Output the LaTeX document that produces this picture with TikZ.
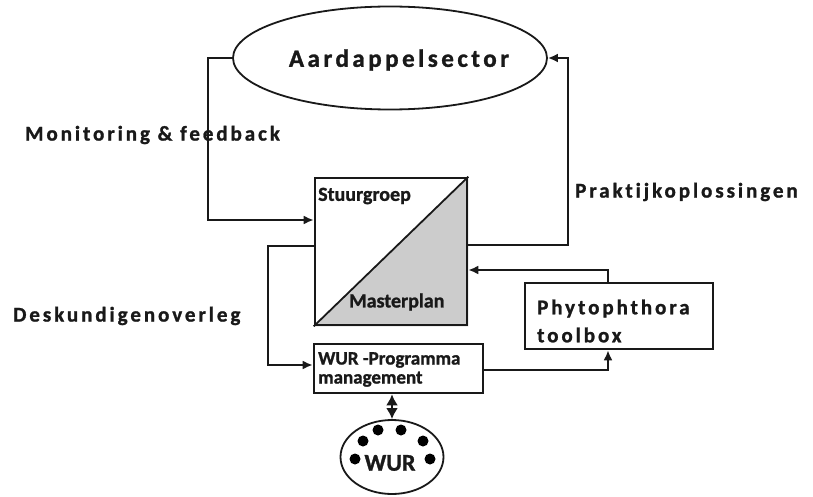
\documentclass[tikz,border=0pt]{standalone}
\usepackage{fontspec}
\setmainfont[Ligatures=NoCommon,FakeBold=1.2]{Carlito}
\usetikzlibrary{shapes.geometric,arrows.meta}
\newfontfamily\spaced[LetterSpace=14,Ligatures=NoCommon,FakeBold=1.2]{Carlito}
\begin{document}
\begin{tikzpicture}[x=1pt,y=-1pt,
  ln/.style={line width=2.6pt,draw=black!90},
  arr/.style={ln,-{Latex[length=10pt,width=9pt]}},
  dblarr/.style={ln,{Latex[length=11pt,width=12pt]}-{Latex[length=11pt,width=12pt]}},
  boxnode/.style={draw=black!90,line width=2.6pt,rectangle,inner sep=0pt},
  lbl/.style={font=\spaced\bfseries\fontsize{21}{24}\selectfont,text=black!90,inner sep=0pt},
  btxt/.style={font=\bfseries\fontsize{20}{21}\selectfont,text=black!90,inner sep=0pt,align=left},
  dot/.style={circle,fill=black,inner sep=0pt,minimum size=11pt}]
\useasboundingbox (0,0) rectangle (813,497);
% nodes
\node[ellipse,draw=black!90,line width=1.8pt,minimum width=314pt,minimum height=103pt,inner sep=0pt] (aard) at (390,58) {};
\node[font=\spaced\bfseries\fontsize{25}{27}\selectfont,text=black!90] (aardt) at (399,60) {Aardappelsector};
\node[boxnode,minimum width=152pt,minimum height=147pt] (stuur) at (391,251.5) {};
\fill[black!20] (stuur.south west) -- (stuur.north east) -- (stuur.south east) -- cycle;
\node[boxnode,minimum width=152pt,minimum height=147pt] (stuur2) at (391,251.5) {};
\draw[line width=1.8pt,black!90] (stuur.south west) -- (stuur.north east);
\node[btxt,anchor=west] (st) at (318,196) {Stuurgroep};
\node[btxt,anchor=west] (mp) at (349,302) {Masterplan};
\node[boxnode,minimum width=188pt,minimum height=66pt] (phyto) at (619,316) {};
\node[btxt,anchor=west,font=\spaced\bfseries\fontsize{21}{28}\selectfont] (phytot) at (537,321) {Phytophthora\\toolbox};
\node[boxnode,minimum width=169pt,minimum height=49pt] (wurbox) at (398.5,368.5) {};
\node[btxt,anchor=west,font=\bfseries\fontsize{19}{19}\selectfont] (wurboxt) at (318,369.5) {WUR -Programma\\management};
\node[ellipse,draw=black!90,line width=1.8pt,minimum width=103pt,minimum height=74pt,inner sep=0pt] (wur) at (392,457) {};
\node[btxt,font=\bfseries\fontsize{24}{24}\selectfont] (wurt) at (390,463) {WUR};
\node[dot] (d1) at (355,459) {};
\node[dot] (d2) at (363,441) {};
\node[dot] (d3) at (378,430) {};
\node[dot] (d4) at (401,430) {};
\node[dot] (d5) at (423,441) {};
\node[dot] (d6) at (430,459) {};
% labels
\node[lbl,anchor=west] (mon) at (25,135) {Monitoring \& feedback};
\node[lbl,anchor=west] (desk) at (13,316) {Deskundigenoverleg};
\node[lbl,anchor=west] (prak) at (575,192) {Praktijkoplossingen};
% coordinates
\coordinate (c1) at (208,220);
\coordinate (c2) at (568,245);
\coordinate (c3) at (608,270);
\coordinate (c4) at (268,246);
\coordinate (c5) at (268,365);
\coordinate (c6) at (608,370);
% connectors
\draw[arr] (aard.west) -| (c1) -- (c1 -| stuur.west);
\draw[arr] (c2 -| stuur.east) -- (c2) |- (aard.east);
\draw[arr] (c3 |- phyto.north) -- (c3) -- (c3 -| stuur.east);
\draw[arr] (c4 -| stuur.west) -- (c4) -- (c5) -- (c5 -| wurbox.west);
\draw[arr] (c6 -| wurbox.east) -- (c6) -- (c6 |- phyto.south);
\draw[dblarr] (wurbox.south -| wur.north) -- (wur.north);
\end{tikzpicture}
\end{document}
